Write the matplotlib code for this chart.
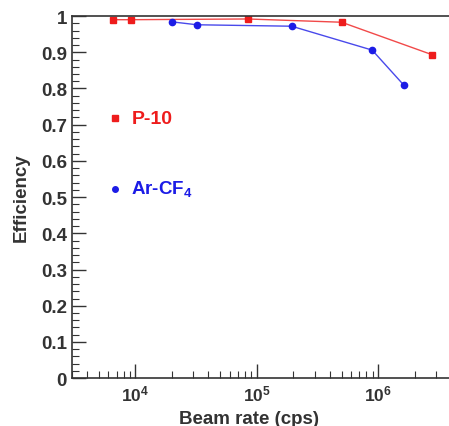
import numpy as np
import matplotlib
matplotlib.use('agg')
import matplotlib.pyplot as plt
from matplotlib.ticker import LogLocator, MultipleLocator, NullFormatter

plt.rcParams['font.family'] = ['Liberation Sans', 'DejaVu Sans']
plt.rcParams['mathtext.fontset'] = 'custom'
plt.rcParams['mathtext.bf'] = 'Liberation Sans:bold'

# P-10 data
p10_rate = [6560, 9270, 84300, 5.0e5, 2.8e6]
p10_eff = [0.990, 0.990, 0.992, 0.983, 0.893]
p10_err = [0.006, 0.005, 0.005, 0.007, 0.003]

# Ar-CF4 data
ar_rate = [20100, 32200, 194000, 893000, 1.63e6]
ar_eff = [0.984, 0.976, 0.972, 0.906, 0.809]
ar_err = [0.005, 0.005, 0.003, 0.003, 0.004]

red = '#ee1c1c'
blue = '#1c1ce6'
gray = '#333333'

fig = plt.figure(figsize=[4.49, 4.27], dpi=100)
ax = fig.add_axes([0.160, 0.112, 0.845, 0.848])

ax.plot(p10_rate, p10_eff, '-', color=red, linewidth=1.0, alpha=0.8)
ax.errorbar(p10_rate, p10_eff, yerr=p10_err, fmt='s', color=red,
            markersize=4.5, elinewidth=1.5, capsize=0)
ax.plot(ar_rate, ar_eff, '-', color=blue, linewidth=1.0, alpha=0.8)
ax.errorbar(ar_rate, ar_eff, yerr=ar_err, fmt='o', color=blue,
            markersize=4.5, elinewidth=1.5, capsize=0)

# legend drawn as text inside the axes
ax.plot([6800], [0.718], 's', color=red, markersize=4)
ax.text(9300, 0.718, 'P-10', color=red, fontsize=14, fontweight='bold',
        va='center', ha='left')
ax.plot([6800], [0.522], 'o', color=blue, markersize=4)
ax.text(9300, 0.522, 'Ar-CF$_\\mathbf{4}$', color=blue, fontsize=13.5,
        fontweight='bold', va='center', ha='left')

ax.set_xscale('log')
ax.set_xlim(3000, 4.0e6)
ax.set_ylim(0, 1.0)

ax.xaxis.set_major_locator(LogLocator(base=10, numticks=10))
ax.xaxis.set_minor_locator(LogLocator(base=10, subs=np.arange(2, 10), numticks=10))
ax.xaxis.set_minor_formatter(NullFormatter())
ax.yaxis.set_minor_locator(MultipleLocator(0.02))
ax.set_yticks(np.arange(0, 1.01, 0.1))
ax.set_yticklabels(['0', '0.1', '0.2', '0.3', '0.4', '0.5', '0.6', '0.7',
                    '0.8', '0.9', '1'])

ax.tick_params(which='major', direction='in', length=10, width=1.0,
               colors=gray, top=False, right=False)
ax.tick_params(axis='y', which='major', labelsize=13.5)
ax.tick_params(axis='x', which='major', labelsize=12.5)
ax.tick_params(which='minor', direction='in', length=5, width=0.8,
               colors=gray, top=False, right=False)
for lab in ax.get_xticklabels() + ax.get_yticklabels():
    lab.set_fontweight('bold')
    lab.set_color(gray)

for sp in ax.spines.values():
    sp.set_color(gray)
    sp.set_linewidth(1.2)

ax.set_xlabel('Beam rate (cps)', fontsize=13.5, fontweight='bold', color=gray)
ax.xaxis.set_label_coords(0.468, -0.088)
ax.set_ylabel('Efficiency', fontsize=13.5, fontweight='bold', color=gray,
              labelpad=8)

plt.savefig('out.png', dpi=100)
